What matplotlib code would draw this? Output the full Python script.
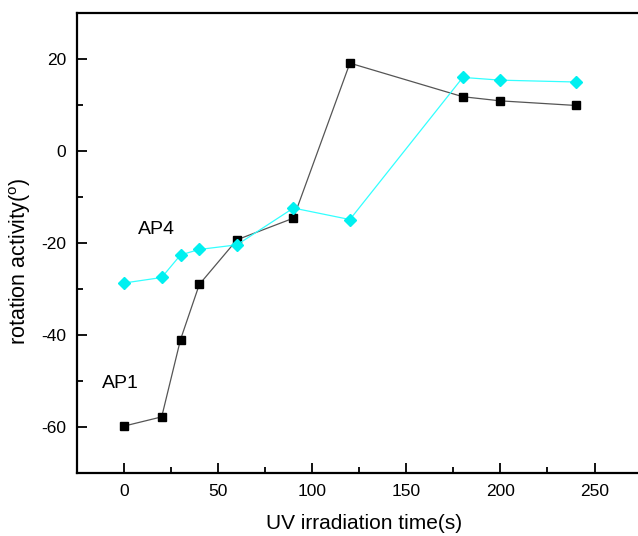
import matplotlib.pyplot as plt
from matplotlib.ticker import MultipleLocator

plt.rcParams['font.family'] = ['Liberation Sans', 'DejaVu Sans']
plt.rcParams['axes.unicode_minus'] = False
plt.rcParams['mathtext.default'] = 'regular'

# UV irradiation time (s)
time_s = [0, 20, 30, 40, 60, 90, 120, 180, 200, 240]

# rotation activity (deg)
ap1 = [-59.8, -57.8, -41.0, -29.0, -19.3, -14.6, 19.1, 11.8, 10.9, 9.9]
ap4 = [-28.7, -27.5, -22.6, -21.4, -20.4, -12.4, -14.9, 16.0, 15.4, 15.0]

fig = plt.figure(figsize=(6.38, 5.36), dpi=100)
ax = fig.add_axes([77 / 638, 1 - 473 / 536, (651 - 77) / 638, (473 - 13) / 536])

ax.plot(time_s, ap1, color='#555555', lw=0.9, marker='s', ms=6,
        mfc='black', mec='black', zorder=3)
ax.plot(time_s, ap4, color='#33ffff', lw=0.9, marker='D', ms=6.5,
        mfc='#00f0f0', mec='#00f0f0', zorder=3)

ax.text(17, -17, "AP4", fontsize=14, ha='center', va='center')
ax.text(-2, -50.6, "AP1", fontsize=14, ha='center', va='center')

ax.set_xlim(-25, 280)
ax.set_ylim(-70, 30)
ax.xaxis.set_major_locator(MultipleLocator(50))
ax.xaxis.set_minor_locator(MultipleLocator(25))
ax.yaxis.set_major_locator(MultipleLocator(20))
ax.yaxis.set_minor_locator(MultipleLocator(10))
ax.tick_params(which='both', direction='in', width=1.3, labelsize=12.5)
ax.tick_params(which='major', length=7, pad=8)
ax.tick_params(which='minor', length=4)

for s in ax.spines.values():
    s.set_linewidth(1.6)
ax.spines['right'].set_visible(False)

ax.set_xlabel("UV irradiation time(s)", fontsize=15, labelpad=11)
ax.set_ylabel("rotation activity($^{o}$)", fontsize=15.5, labelpad=6, y=0.46)

fig.savefig("out.png", dpi=100)
